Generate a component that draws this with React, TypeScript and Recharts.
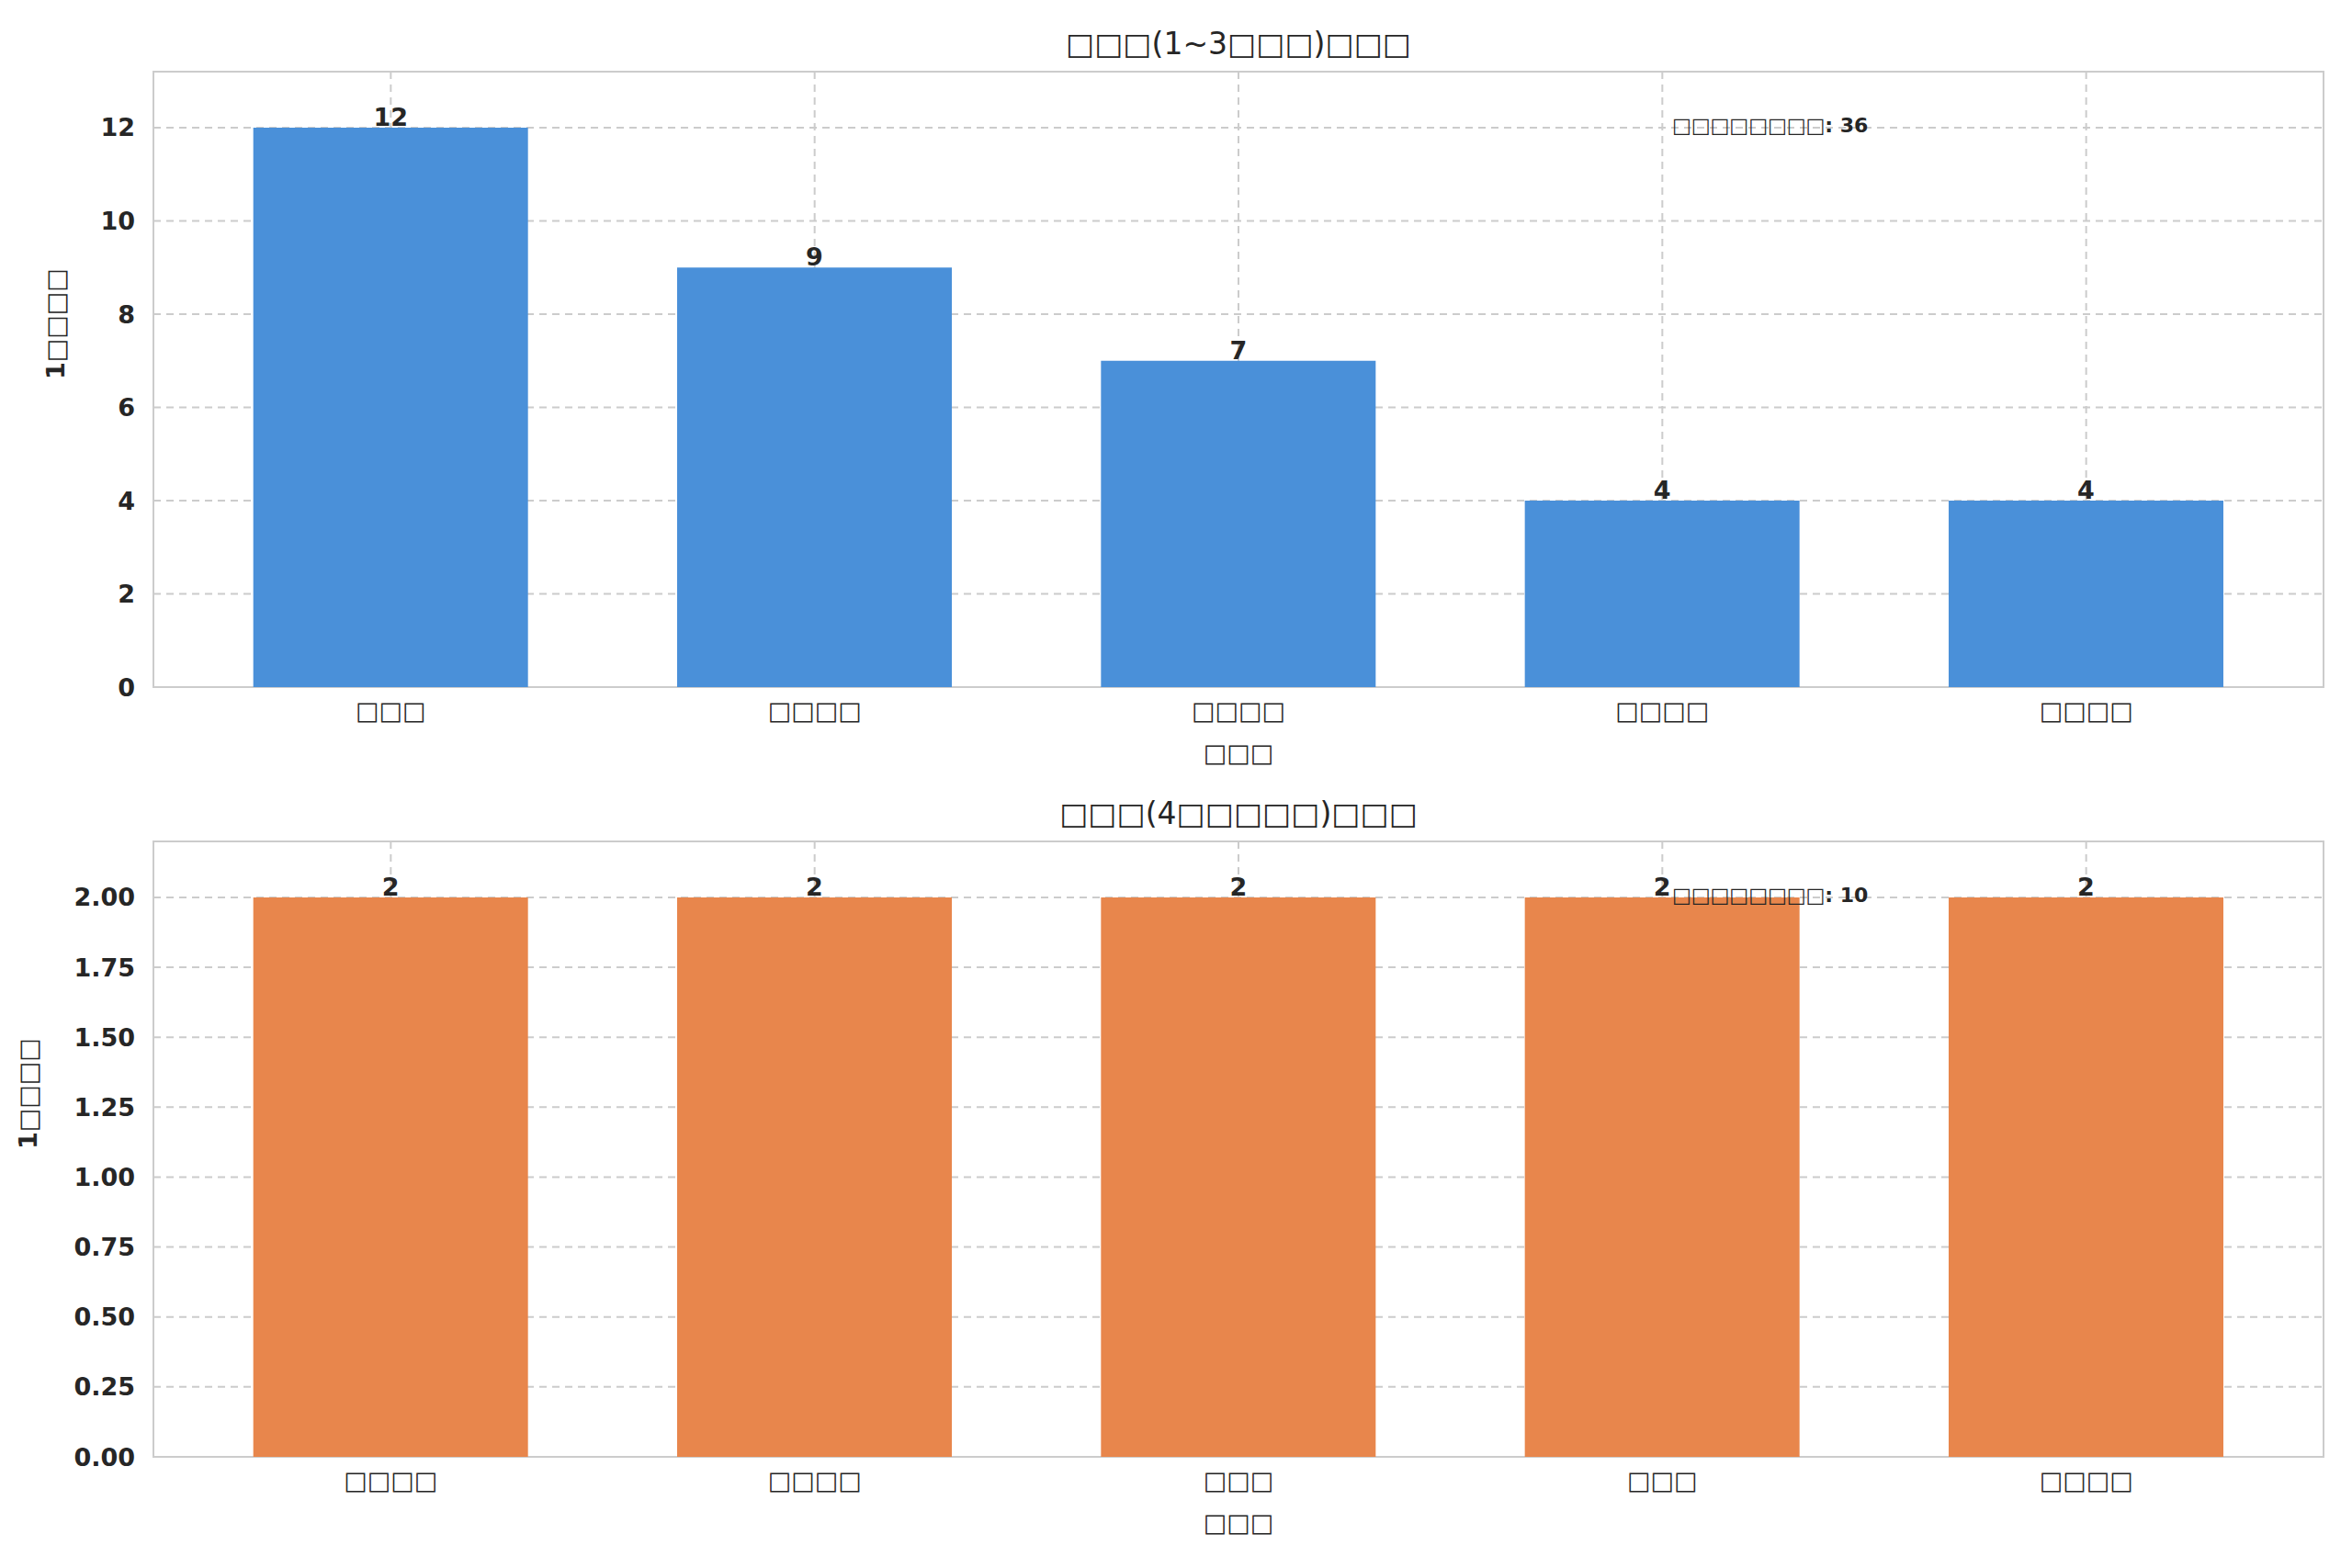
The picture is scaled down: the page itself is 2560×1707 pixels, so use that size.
import React from "react";
import { Bar, BarChart, CartesianGrid, LabelList, ReferenceArea, XAxis, YAxis } from "recharts";

const topNames = ["□□□", "□□□□", "□□□□", "□□□□", "□□□□"];
const topValues = [12, 9, 7, 4, 4];
const bottomNames = ["□□□□", "□□□□", "□□□", "□□□", "□□□□"];
const bottomValues = [2, 2, 2, 2, 2];
const topTicks = [0, 2, 4, 6, 8, 10, 12];
const bottomTicks = [0, 0.25, 0.5, 0.75, 1, 1.25, 1.5, 1.75, 2];

const FONT = "DejaVu Sans, sans-serif";
const INK = "#262626";

function Panel({
  names, values, ticks, yMax, color, title, note, top, decimals, plotTop, plotBottom,
}: {
  names: string[]; values: number[]; ticks: number[]; yMax: number; color: string;
  title: string; note: string; top: number; decimals: number; plotTop: number; plotBottom: number;
}) {
  const data = values.map((v, i) => ({ x: i, value: v }));
  const H = 853;
  return (
    <div style={{ position: "absolute", left: 0, top, width: 2560, height: H, fontFamily: FONT }}>
      <BarChart width={2560} height={H} data={data}
        margin={{ top: plotTop, right: 31, bottom: 0, left: 0 }}>
        <CartesianGrid stroke="#cccccc" strokeDasharray="8 6" strokeWidth={2} />
        <XAxis dataKey="x" type="number" domain={[-0.56, 4.56]} ticks={[0, 1, 2, 3, 4]}
          tickFormatter={(v) => names[v] ?? ""} axisLine={false} tickLine={false}
          height={H - plotBottom} tick={{ fontSize: 27, fill: INK, fontFamily: FONT }} tickMargin={10}
          label={{ value: "□□□", position: "insideTop", offset: 62, fontSize: 27, fill: INK, fontFamily: FONT }} />
        <YAxis type="number" domain={[0, yMax]} ticks={ticks} allowDataOverflow
          tickFormatter={(v) => Number(v).toFixed(decimals)} axisLine={false} tickLine={false}
          width={167} tick={{ fontSize: 27, fill: INK, fontWeight: "bold", fontFamily: FONT }} tickMargin={14}
          label={{ value: "1□□□□", angle: -90, position: "insideLeft", offset: decimals ? 30 : 60,
            fontSize: 27, fill: INK, fontWeight: "bold", fontFamily: FONT }} />
        <ReferenceArea x1={-0.56} x2={4.56} y1={0} y2={yMax} fill="none" stroke="#cccccc" strokeWidth={2} ifOverflow="extendDomain" />
        <Bar dataKey="value" fill={color} barSize={299} isAnimationActive={false}>
          <LabelList dataKey="value" position="top" offset={2} style={{ fontSize: 27, fontWeight: "bold", fill: INK, fontFamily: FONT }} />
        </Bar>
      </BarChart>
      <div style={{ position: "absolute", left: 167, width: 2362, top: plotTop - 50, textAlign: "center", fontSize: 33, color: INK }}>
        {title}
      </div>
      <div style={{ position: "absolute", left: 1820, top: plotTop + 46, fontSize: 22, fontWeight: "bold", color: INK }}>
        {note}
      </div>
    </div>
  );
}

export default function App() {
  return (
    <div style={{ position: "absolute", left: 0, top: 0, width: 2560, height: 1707, background: "#fff" }}>
      <Panel names={topNames} values={topValues} ticks={topTicks} yMax={13.2} color="#4a90d9"
        title="□□□(1~3□□□)□□□" note="□□□□□□□□: 36" top={0} decimals={0} plotTop={78} plotBottom={748} />
      <Panel names={bottomNames} values={bottomValues} ticks={bottomTicks} yMax={2.2} color="#e8864c"
        title="□□□(4□□□□□)□□□" note="□□□□□□□□: 10" top={853} decimals={2} plotTop={63} plotBottom={733} />
    </div>
  );
}
